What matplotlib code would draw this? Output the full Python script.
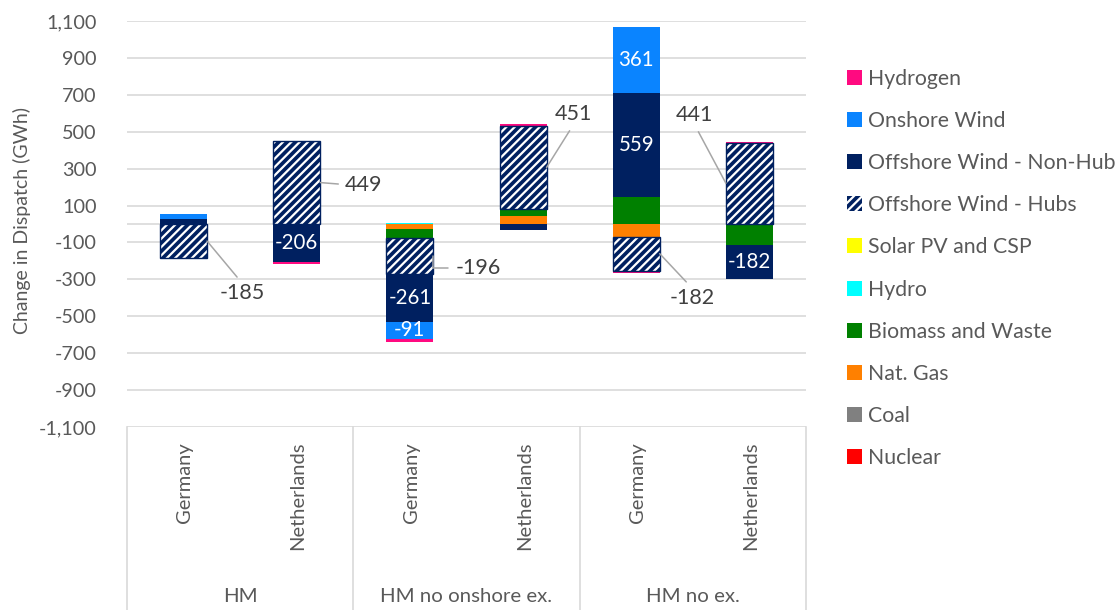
import matplotlib
matplotlib.use("Agg")
import matplotlib.pyplot as plt
from matplotlib.patches import Patch
from matplotlib.lines import Line2D
from matplotlib.ticker import FuncFormatter
import numpy as np

plt.rcParams['font.family'] = ['Lato', 'DejaVu Sans']
plt.rcParams['hatch.linewidth'] = 1.6

# Categories (two-level axis)
countries = ['Germany', 'Netherlands', 'Germany', 'Netherlands', 'Germany', 'Netherlands']
scenarios = ['HM', 'HM no onshore ex.', 'HM no ex.']

# Change in dispatch (GWh) per technology, one value per category
nuclear = [0, 0, 0, 0, 0, 0]
coal = [0, 0, 0, 0, 0, 0]
nat_gas = [0, 0, -27, 45, -70, 0]
biomass = [0, 0, -47, 36, 145, -115]
hydro = [0, 0, 8, 0, 4, 0]
solar = [0, 0, 0, 0, 0, 0]
hubs = [-185, 449, -196, 451, -182, 441]
non_hub = [28, -206, -261, -30, 559, -182]
onshore = [24, 0, -91, 0, 361, 0]
hydrogen = [-7, -9, -18, 10, -14, 6]

series_names = ['Nuclear', 'Coal', 'Nat. Gas', 'Biomass and Waste', 'Hydro',
                'Solar PV and CSP', 'Offshore Wind - Hubs', 'Offshore Wind - Non-Hub',
                'Onshore Wind', 'Hydrogen']
series_values = [nuclear, coal, nat_gas, biomass, hydro, solar, hubs, non_hub,
                 onshore, hydrogen]
colors = {'Nuclear': '#ff0000', 'Coal': '#808080', 'Nat. Gas': '#ff8000',
          'Biomass and Waste': '#008000', 'Hydro': '#00ffff',
          'Solar PV and CSP': '#ffff00', 'Offshore Wind - Hubs': '#002060',
          'Offshore Wind - Non-Hub': '#002060', 'Onshore Wind': '#0a84ff',
          'Hydrogen': '#ff0a80'}
HUB = 'Offshore Wind - Hubs'
HUB_HATCH = '////'
inside_label_series = ['Offshore Wind - Non-Hub', 'Onshore Wind']

# Callout placement for the hub labels: text offset (px) and leader anchor side
callouts = [
    dict(side='right', dx=35, dy=-52, relpos=(0.5, 1.0), ha='center', conn='arc3'),
    dict(side='right', dx=25, dy=-2, relpos=(0.0, 0.5), ha='left', conn='arc3'),
    dict(side='right', dx=22, dy=-12, relpos=(0.0, 0.5), ha='left',
         conn='angle,angleA=0,angleB=90,rad=0'),
    dict(side='right', dx=27, dy=53, relpos=(0.5, 0.0), ha='center', conn='arc3'),
    dict(side='right', dx=32, dy=-44, relpos=(0.5, 1.0), ha='center', conn='arc3'),
    dict(side='left', dx=-31, dy=68, relpos=(0.5, 0.0), ha='center', conn='arc3'),
]

TEXT = '#595959'
W, H = 1120, 610
fig = plt.figure(figsize=(W / 100, H / 100), dpi=100)
ax = fig.add_axes([127 / W, 1 - 427 / H, (806 - 127) / W, (427 - 21) / H])

x = np.arange(len(countries))
bar_w = 0.415
pos_base = np.zeros(len(x))
neg_base = np.zeros(len(x))
hub_segments = []

for name, vals in zip(series_names, series_values):
    vals = np.array(vals, dtype=float)
    bottoms = np.where(vals >= 0, pos_base, neg_base)
    if name == HUB:
        ax.bar(x, vals, bar_w, bottom=bottoms, facecolor=colors[name],
               edgecolor='white', hatch=HUB_HATCH, linewidth=0, zorder=3)
        ax.bar(x, vals, bar_w, bottom=bottoms, fill=False,
               edgecolor=colors[name], linewidth=1.0, zorder=4)
        hub_segments = list(zip(bottoms, vals))
    else:
        ax.bar(x, vals, bar_w, bottom=bottoms, color=colors[name],
               linewidth=0, zorder=3)
    if name in inside_label_series:
        for xi, b, v in zip(x, bottoms, vals):
            if abs(v) >= 80:
                ax.text(xi, b + v / 2, f"{v:.0f}", ha='center', va='center',
                        color='white', fontsize=14.8, zorder=5)
    pos_base = pos_base + np.where(vals > 0, vals, 0)
    neg_base = neg_base + np.where(vals < 0, vals, 0)

# Callout labels for offshore hub segments
for xi, (b, v), c in zip(x, hub_segments, callouts):
    edge = xi + bar_w / 2 if c['side'] == 'right' else xi - bar_w / 2
    ax.annotate(f"{v:.0f}", xy=(edge, b + v / 2), xytext=(c['dx'], c['dy']),
                textcoords='offset pixels', ha=c['ha'], va='center',
                fontsize=15.5, color='#404040', zorder=6,
                arrowprops=dict(arrowstyle='-', color='#a6a6a6', lw=1.1,
                                shrinkA=3, shrinkB=0, relpos=c['relpos'],
                                connectionstyle=c['conn']))

# Axes styling
ax.set_xlim(-0.5, len(x) - 0.5)
ax.set_ylim(-1100, 1100)
yt = np.arange(-1100, 1101, 200)
ax.set_yticks(yt)
ax.yaxis.set_major_formatter(FuncFormatter(lambda v, p: f"{v:,.0f}"))
ax.tick_params(axis='y', length=0, pad=22, labelsize=14.3, labelcolor=TEXT)
ax.set_xticks([])
for s in ax.spines.values():
    s.set_visible(False)
for v in yt:
    ax.axhline(v, color='#d9d9d9', lw=1.2, zorder=1)
ax.axhline(0, color='#d9d9d9', lw=1.2, zorder=1)

# Two-level category axis below the plot
px_per_axes = 427 - 21
box_bottom = -(H - 427) / px_per_axes
trans = ax.get_xaxis_transform()
for bx in [-0.5, 1.5, 3.5, 5.5]:
    ax.add_line(Line2D([bx, bx], [0, box_bottom], transform=trans, color='#d9d9d9',
                       lw=1.2, clip_on=False))
for xi, c in zip(x, countries):
    ax.text(xi + 0.012, -(442 - 427) / px_per_axes, c, rotation=90, ha='center',
            va='top', transform=trans, fontsize=14.5, color=TEXT)
for gi, g in enumerate(scenarios):
    ax.text(2 * gi + 0.5, -(597 - 427) / px_per_axes, g, ha='center', va='center',
            transform=trans, fontsize=14.7, color=TEXT)

fig.text(22 / W, 1 - 220 / H, 'Change in Dispatch (GWh)', rotation=90,
         ha='center', va='center', fontsize=14, color=TEXT)

# Legend (top entry = last stacked series)
handles = []
for name in reversed(series_names):
    if name == HUB:
        handles.append(Patch(facecolor=colors[name], edgecolor='white', hatch=HUB_HATCH,
                             linewidth=0, label=name))
    else:
        handles.append(Patch(facecolor=colors[name], linewidth=0, label=name))
fig.legend(handles=handles, loc='upper left', bbox_to_anchor=(847 / W, 1 - 69 / H),
           frameon=False, fontsize=15.3, labelcolor=TEXT, handlelength=0.706,
           handleheight=0.706, handletextpad=0.28, labelspacing=1.04,
           borderpad=0, borderaxespad=0)

fig.savefig('out.png', dpi=100)
